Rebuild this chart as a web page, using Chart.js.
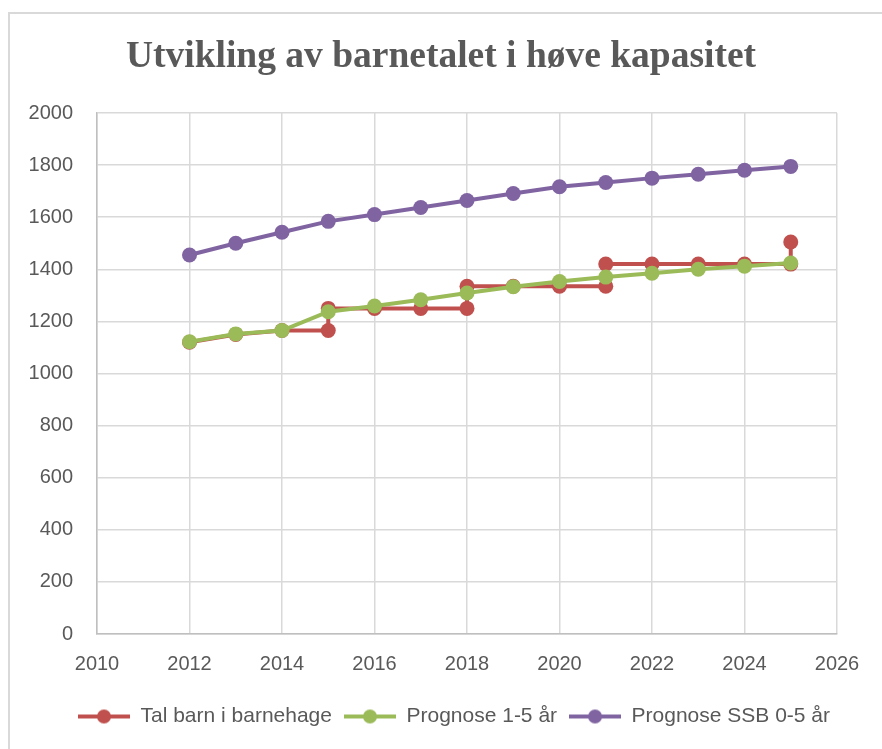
<!DOCTYPE html>
<html>
<head>
<meta charset="utf-8">
<script src="https://cdn.jsdelivr.net/npm/chart.js@4"></script>
<style>
  html, body { margin: 0; padding: 0; background: #fff; }
  #wrap { position: relative; width: 882px; height: 749px; overflow: hidden; }
  #frame { position: absolute; left: 8px; top: 12px; right: -10px; bottom: -10px;
           border-top: 2px solid #d9d9d9; border-left: 2px solid #d9d9d9; }
  #chart { position: absolute; left: 0; top: 0; }
</style>
</head>
<body>
<div id="wrap">
  <div id="frame"></div>
  <canvas id="chart" width="882" height="749"></canvas>
</div>
<script>
// ── Data ──
const years = [2012, 2013, 2014, 2015, 2016, 2017, 2018, 2019, 2020, 2021, 2022, 2023, 2024, 2025];

// red series steps, so years repeat where capacity jumps
const talYears  = [2012, 2013, 2014, 2015, 2015, 2016, 2017, 2018, 2018, 2019, 2020, 2021, 2021, 2022, 2023, 2024, 2025, 2025];
const talBarn   = [1120, 1150, 1165, 1165, 1250, 1250, 1250, 1250, 1335, 1335, 1335, 1335, 1420, 1420, 1420, 1420, 1420, 1505];
const prognose15 = [1122, 1152, 1165, 1237, 1259, 1283, 1309, 1333, 1353, 1370, 1385, 1400, 1412, 1424];
const ssb05      = [1455, 1500, 1542, 1584, 1610, 1637, 1664, 1691, 1717, 1733, 1750, 1765, 1780, 1795];

const seriesNames = ["Tal barn i barnehage", "Prognose 1-5 år", "Prognose SSB 0-5 år"];
const seriesColors = ["#C0504D", "#9BBB59", "#8064A2"];

const TEXT = "#595959";
const GRID = "#d9d9d9";
const FONT = "'Liberation Sans', Arial, sans-serif";

const pts = (xs, ys) => xs.map((x, i) => ({ x, y: ys[i] }));

// legend icon: line with a dot in the middle
function legendIcon(color) {
  const c = document.createElement("canvas");
  c.width = 52; c.height = 16;
  const g = c.getContext("2d");
  g.strokeStyle = color; g.lineWidth = 4;
  g.beginPath(); g.moveTo(0, 8); g.lineTo(52, 8); g.stroke();
  g.fillStyle = color;
  g.beginPath(); g.arc(26, 8, 7, 0, Math.PI * 2); g.fill();
  return c;
}
const icons = seriesColors.map(legendIcon);

function makeDataset(label, color, data, order) {
  return {
    label, data, order,
    borderColor: color,
    backgroundColor: color,
    pointBackgroundColor: color,
    pointBorderWidth: 0,
    pointRadius: 7.5,
    borderWidth: 4,
    tension: 0,
    fill: false,
  };
}

// legend sits a bit right of centre in the reference
const nudgeLegend = {
  id: "nudgeLegend",
  afterLayout(chart) {
    if (chart.legend) { chart.legend.left += 13; chart.legend.right += 13; }
  },
};

new Chart(document.getElementById("chart"), {
  type: "line",
  data: {
    datasets: [
      makeDataset(seriesNames[0], seriesColors[0], pts(talYears, talBarn), 3),
      makeDataset(seriesNames[1], seriesColors[1], pts(years, prognose15), 2),
      makeDataset(seriesNames[2], seriesColors[2], pts(years, ssb05), 1),
    ],
  },
  plugins: [nudgeLegend],
  options: {
    responsive: false,
    animation: false,
    layout: { padding: { left: 0, right: 0, top: 0, bottom: 12 } },
    plugins: {
      tooltip: { enabled: false },
      title: {
        display: true,
        text: "Utvikling av barnetalet i høve kapasitet",
        color: TEXT,
        font: { family: "'Liberation Serif', 'Times New Roman', serif", size: 37.5, weight: "bold", lineHeight: 1.2 },
        padding: { top: 35, bottom: 33 },
      },
      legend: {
        position: "bottom",
        labels: {
          color: TEXT,
          font: { family: FONT, size: 21 },
          usePointStyle: true,
          pointStyleWidth: 52,
          padding: 12,
          sort: (a, b) => a.datasetIndex - b.datasetIndex,
          generateLabels(chart) {
            const items = Chart.defaults.plugins.legend.labels.generateLabels(chart);
            items.forEach(it => { it.pointStyle = icons[it.datasetIndex]; });
            return items;
          },
        },
      },
    },
    scales: {
      x: {
        type: "linear",
        min: 2010, max: 2026,
        ticks: { stepSize: 2, color: TEXT, font: { family: FONT, size: 20 }, padding: 18, maxRotation: 0,
                 callback: v => String(v) },
        grid: { color: GRID, lineWidth: 1.5, drawTicks: false },
        border: { color: "#bfbfbf", width: 1.5 },
      },
      y: {
        min: 0, max: 2000,
        ticks: { stepSize: 200, color: TEXT, font: { family: FONT, size: 20 }, padding: 24,
                 callback: v => String(v) },
        grid: { color: GRID, lineWidth: 1.5, drawTicks: false },
        border: { color: "#bfbfbf", width: 1.5 },
        afterFit: s => { s.width = 97; },
      },
      // empty right-hand spacer so the plot ends where the reference does
      spacer: {
        position: "right",
        min: 0, max: 1,
        grid: { display: false },
        ticks: { display: false },
        border: { display: false },
        afterFit: s => { s.width = 45; },
      },
    },
  },
});
</script>
</body>
</html>
